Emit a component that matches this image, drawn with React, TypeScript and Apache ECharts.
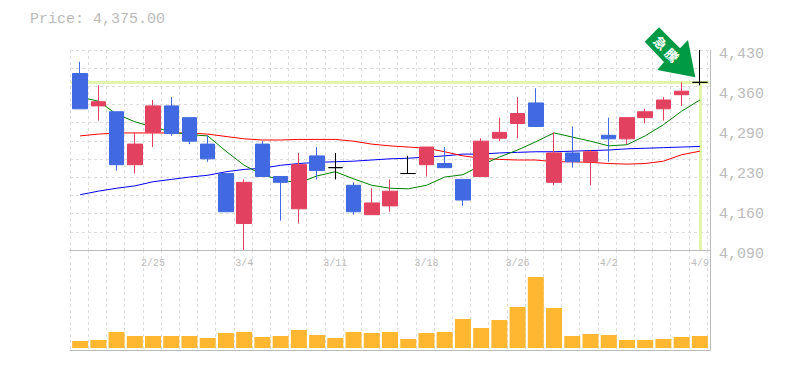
import React, { useEffect, useRef } from "react";
import * as echarts from "echarts";

const dates = ["2/19","2/20","2/21","2/22","2/25","2/26","2/27","2/28","3/1","3/4","3/5","3/6","3/7","3/8","3/11","3/12","3/13","3/14","3/15","3/18","3/19","3/20","3/22","3/25","3/26","3/27","3/28","3/29","4/1","4/2","4/3","4/4","4/5","4/8","4/9"];
const labelledDates = ["2/25","3/4","3/11","3/18","3/26","4/2","4/9"];
const opens = [4390,4335,4325,4235,4290,4335,4315,4270,4220,4135,4270,4215,4160,4250,4230,4200,4150,4165,4220,4235,4237,4210,4215,4280,4305,4340,4205,4255,4240,4285,4279,4315,4330,4354,4375];
const closes = [4330,4342,4235,4270,4335,4288,4275,4245,4155,4205,4215,4205,4235,4225,4230,4155,4170,4190,4220,4265,4230,4175,4275,4290,4322,4300,4255,4240,4257,4279,4315,4325,4345,4360,4375];
const lows = [4330,4310,4225,4220,4265,4284,4270,4240,4155,4090,4215,4140,4135,4210,4210,4150,4150,4155,4220,4215,4230,4165,4215,4275,4280,4300,4200,4230,4200,4240,4270,4305,4310,4335,4370];
const highs = [4410,4370,4325,4290,4345,4350,4315,4285,4220,4210,4275,4215,4255,4265,4255,4205,4195,4210,4250,4265,4265,4210,4280,4315,4350,4365,4290,4300,4260,4315,4315,4330,4350,4375,4430];
const maShort = [4350,4343,4321,4308,4299,4291,4286,4284,4258,4234,4218,4209,4204,4216,4223,4211,4200,4195,4194,4200,4214,4218,4234,4248,4260,4274,4289,4282,4275,4267,4269,4284,4303,4326,4345];
const maMid = [4284,4287,4289,4289,4289,4289,4289,4287,4283,4279,4277,4277,4278,4278,4278,4275,4270,4267,4265,4263,4257,4250,4246,4244,4243,4243,4240,4240,4239,4237,4236,4237,4241,4252,4258];
const maLong = [4184,4190,4195,4199,4206,4210,4214,4217,4223,4227,4229,4234,4237,4239,4240,4241,4243,4245,4246,4248,4250,4253,4253,4255,4256,4257,4257,4258,4259,4260,4262,4263,4264,4265,4266];
const volumes = [7,8,16,12,12,12,12,10,15,16,11,12,18,13,10,16,15,16,9,15,16,29,20,28,41,71,40,12,14,13,8,8,9,11,12];
const priceTicks = [4090,4158,4226,4294,4362,4430];
const priceTickLabels = ["4,090","4,160","4,230","4,290","4,360","4,430"];
const lastPrice = 4375;
const titleText = "Price: 4,375.00";
const badgeGlyphs = ["急","騰"];

const MONO = "'Liberation Mono', monospace";
const GREY = "#bbbbbb";
const DASH = { color: "#dddddd", type: [3, 3] as number[], width: 1 };
const LAST = dates.length - 1;

export default function App() {
  const ref = useRef<HTMLDivElement>(null);
  useEffect(() => {
    document.body.style.margin = "0";
    const chart = echarts.init(ref.current!, null, { renderer: "svg" });
    const hidden = { show: false };
    chart.setOption({
      animation: false,
      backgroundColor: "#ffffff",
      title: {
        text: titleText, left: 25, top: 7,
        textStyle: { fontFamily: MONO, fontSize: 15, fontWeight: "normal", color: GREY },
      },
      grid: [
        { left: 71, top: 50, width: 638, height: 200 },
        { left: 71, top: 250, width: 638, height: 98 },
        { left: 70, top: 50, width: 640, height: 200 },
        { left: 70, top: 250, width: 640, height: 100 },
      ],
      xAxis: [
        {
          type: "category", gridIndex: 0, data: dates, axisLine: hidden, axisTick: hidden, splitLine: hidden,
          axisLabel: {
            interval: (_: number, v: string) => labelledDates.includes(v),
            color: GREY, fontFamily: MONO, fontSize: 10, margin: 8,
          },
        },
        { type: "category", gridIndex: 1, data: dates, axisLine: hidden, axisTick: hidden, axisLabel: hidden, splitLine: hidden },
        {
          type: "value", gridIndex: 2, min: 0, max: 35.165, interval: 1, axisTick: hidden, axisLabel: hidden,
          axisLine: { show: true, onZero: false, lineStyle: { color: GREY, width: 1 } },
          splitLine: { show: true, lineStyle: DASH },
        },
        {
          type: "value", gridIndex: 3, min: 0, max: 35.165, interval: 1, axisTick: hidden, axisLabel: hidden,
          axisLine: { show: true, onZero: false, lineStyle: { color: GREY, width: 1 } },
          splitLine: { show: true, lineStyle: DASH },
        },
      ],
      yAxis: [
        {
          type: "value", gridIndex: 0, position: "right", offset: 1, min: 4090, max: 4430,
          axisLine: hidden, axisTick: hidden, splitLine: hidden,
          axisLabel: {
            customValues: priceTicks,
            formatter: (v: number) => `{t|${priceTickLabels[priceTicks.indexOf(v)] ?? ""}}`,
            margin: 9,
            rich: { t: { color: GREY, fontFamily: MONO, fontSize: 15, padding: [8, 0, 0, 0] } },
          },
        },
        { type: "value", gridIndex: 1, min: 0, max: 98, axisLine: hidden, axisTick: hidden, axisLabel: hidden, splitLine: hidden },
        {
          type: "value", gridIndex: 2, position: "right", min: 0, max: 11, interval: 1, axisTick: hidden, axisLabel: hidden,
          axisLine: { show: true, onZero: false, lineStyle: { color: GREY, width: 1 } },
          splitLine: { show: true, lineStyle: DASH },
        },
        {
          type: "value", gridIndex: 3, position: "right", min: 0, max: 1, axisTick: hidden, axisLabel: hidden,
          axisLine: { show: true, onZero: false, lineStyle: { color: GREY, width: 1 } },
          splitLine: hidden,
        },
      ],
      series: [
        { type: "line", name: "MA long", data: maLong, showSymbol: false, z: 2, lineStyle: { color: "#0000ff", width: 1 } },
        { type: "line", name: "MA mid", data: maMid, showSymbol: false, z: 2, lineStyle: { color: "#ff0000", width: 1 } },
        { type: "line", name: "MA short", data: maShort, showSymbol: false, z: 2, lineStyle: { color: "#008000", width: 1 } },
        {
          type: "candlestick", name: "price", z: 3, barWidth: 15,
          data: dates.map((_, i) => [opens[i], closes[i], lows[i], highs[i]]),
          itemStyle: {
            color: "#e2425f", color0: "#4169e1",
            borderColor: "#e2425f", borderColor0: "#4169e1", borderColorDoji: "#000000", borderWidth: 1,
          },
          markLine: {
            silent: true, symbol: "none", animation: false, z: 1, label: { show: false },
            lineStyle: { color: "#e2f5a8", width: 3, type: "solid" },
            data: [
              { yAxis: lastPrice },
              [{ coord: [dates[LAST], lastPrice] }, { coord: [dates[LAST], priceTicks[0]] }],
            ],
          },
        },
        {
          type: "bar", name: "volume", xAxisIndex: 1, yAxisIndex: 1, data: volumes, barWidth: 16,
          itemStyle: { color: "#ffb732" },
        },
      ],
      graphic: [
        {
          type: "polygon", z: 100,
          shape: { points: [[659, 27.3], [644.7, 41.7], [664, 62], [657.3, 70], [695.3, 77.3], [688, 40], [680, 48.3]] },
          style: { fill: "#009944" },
        },
        {
          type: "text", z: 101, x: 660.7, y: 42.7, rotation: -Math.PI / 4,
          style: { text: badgeGlyphs[0], fill: "#ffffff", font: "bold 13px 'Noto Sans CJK JP'", align: "center", verticalAlign: "middle" },
        },
        {
          type: "text", z: 101, x: 672.3, y: 55, rotation: -Math.PI / 4,
          style: { text: badgeGlyphs[1], fill: "#ffffff", font: "bold 13px 'Noto Sans CJK JP'", align: "center", verticalAlign: "middle" },
        },
      ],
    });
    return () => chart.dispose();
  }, []);
  return <div ref={ref} style={{ width: 785, height: 370 }} />;
}
